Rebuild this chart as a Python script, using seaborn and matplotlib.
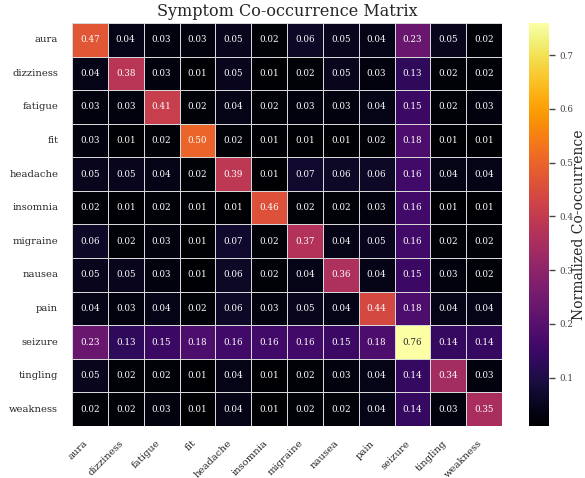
import numpy as np
import pandas as pd
import matplotlib
matplotlib.use("Agg")
import matplotlib.pyplot as plt
import seaborn as sns

symptoms = ["aura", "dizziness", "fatigue", "fit", "headache", "insomnia",
            "migraine", "nausea", "pain", "seizure", "tingling", "weakness"]

aura      = [0.47, 0.04, 0.03, 0.03, 0.05, 0.02, 0.06, 0.05, 0.04, 0.23, 0.05, 0.02]
dizziness = [0.04, 0.38, 0.03, 0.01, 0.05, 0.01, 0.02, 0.05, 0.03, 0.13, 0.02, 0.02]
fatigue   = [0.03, 0.03, 0.41, 0.02, 0.04, 0.02, 0.03, 0.03, 0.04, 0.15, 0.02, 0.03]
fit       = [0.03, 0.01, 0.02, 0.50, 0.02, 0.01, 0.01, 0.01, 0.02, 0.18, 0.01, 0.01]
headache  = [0.05, 0.05, 0.04, 0.02, 0.39, 0.01, 0.07, 0.06, 0.06, 0.16, 0.04, 0.04]
insomnia  = [0.02, 0.01, 0.02, 0.01, 0.01, 0.46, 0.02, 0.02, 0.03, 0.16, 0.01, 0.01]
migraine  = [0.06, 0.02, 0.03, 0.01, 0.07, 0.02, 0.37, 0.04, 0.05, 0.16, 0.02, 0.02]
nausea    = [0.05, 0.05, 0.03, 0.01, 0.06, 0.02, 0.04, 0.36, 0.04, 0.15, 0.03, 0.02]
pain      = [0.04, 0.03, 0.04, 0.02, 0.06, 0.03, 0.05, 0.04, 0.44, 0.18, 0.04, 0.04]
seizure   = [0.23, 0.13, 0.15, 0.18, 0.16, 0.16, 0.16, 0.15, 0.18, 0.76, 0.14, 0.14]
tingling  = [0.05, 0.02, 0.02, 0.01, 0.04, 0.01, 0.02, 0.03, 0.04, 0.14, 0.34, 0.03]
weakness  = [0.02, 0.02, 0.03, 0.01, 0.04, 0.01, 0.02, 0.02, 0.04, 0.14, 0.03, 0.35]

rows = [aura, dizziness, fatigue, fit, headache, insomnia,
        migraine, nausea, pain, seizure, tingling, weakness]

df = pd.DataFrame(rows, index=symptoms, columns=symptoms)

sns.set_theme(style="white")
plt.rcParams["font.family"] = ["DejaVu Serif"]

fig = plt.figure(figsize=(5.85, 4.78), dpi=100)
ax = fig.add_axes([72 / 585, 1 - 426 / 478, 430 / 585, 403 / 478])
cax = fig.add_axes([529 / 585, 1 - 426 / 478, 20 / 585, 403 / 478])

sns.heatmap(
    df, ax=ax, cbar_ax=cax, cmap="inferno", annot=True, fmt=".2f",
    annot_kws={"size": 6.3}, linewidths=0.6, linecolor="#d8d8d8",
    cbar_kws={"label": "Normalized Co-occurrence"}
)

ax.set_title("Symptom Co-occurrence Matrix", fontsize=11.5, pad=5)
ax.set_xticklabels(ax.get_xticklabels(), rotation=45, ha="right", fontsize=7.2)
ax.set_yticklabels(ax.get_yticklabels(), rotation=0, fontsize=7.2)
ax.tick_params(axis="y", length=0, pad=10)
ax.tick_params(axis="x", length=0, pad=9)

cax.tick_params(labelsize=6.3, length=4.5, width=1, pad=3, colors="#444444")
cax.yaxis.label.set_size(10)
cax.yaxis.set_label_coords(2.17, 0.5)

fig.savefig("out.png", dpi=100)
